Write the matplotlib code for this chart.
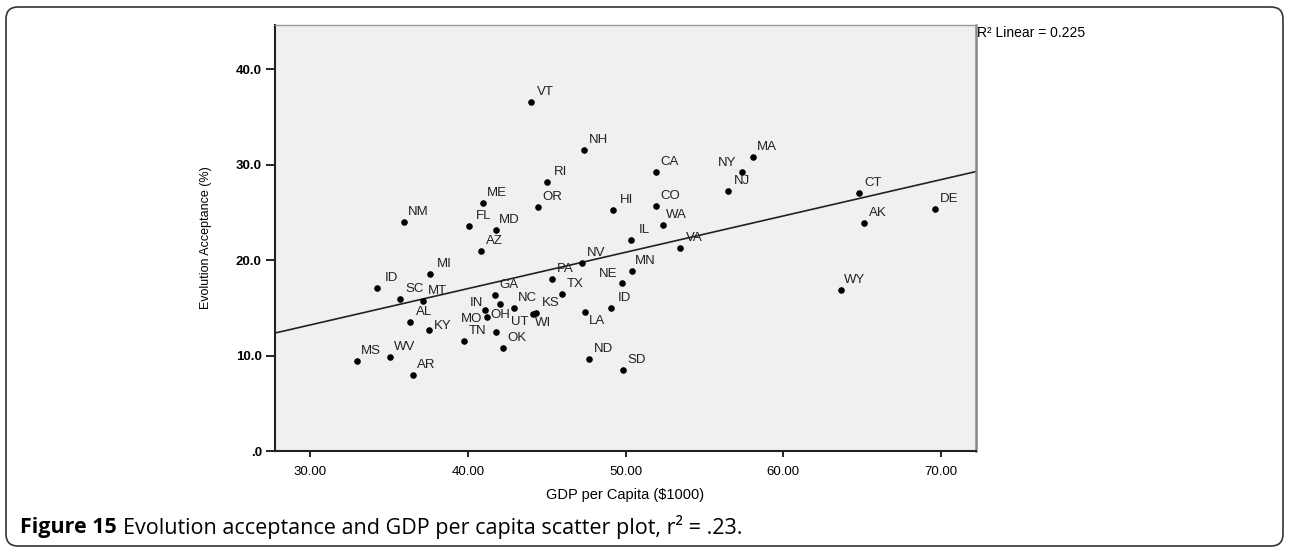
import numpy as np
import matplotlib
matplotlib.use("Agg")
from matplotlib import pyplot as plt
from matplotlib.patches import FancyBboxPatch

# Data
states = ['NM', 'ME', 'FL', 'MD', 'AZ', 'VT', 'NH', 'RI', 'OR', 'HI',
          'CA', 'CO', 'WA', 'IL', 'VA', 'MA', 'NY', 'NJ', 'CT', 'AK',
          'DE', 'ID', 'MI', 'SC', 'MT', 'AL', 'KY', 'MS', 'WV', 'AR',
          'TN', 'MO', 'GA', 'IN', 'OH', 'NC', 'UT', 'WI', 'KS', 'OK',
          'NV', 'PA', 'TX', 'NE', 'MN', 'ID', 'LA', 'ND', 'SD', 'WY']
gdp = [35.93, 40.93, 40.08, 41.75, 40.80, 44.00, 47.38, 44.99, 44.44, 49.20,
       51.91, 51.95, 52.37, 50.32, 53.45, 58.11, 57.41, 56.48, 64.84, 65.14,
       69.66, 34.24, 37.60, 35.70, 37.16, 36.33, 37.54, 32.94, 35.06, 36.48,
       39.72, 41.18, 41.72, 42.05, 41.09, 42.90, 41.77, 44.14, 44.35, 42.24,
       47.23, 45.31, 45.94, 49.77, 50.39, 49.07, 47.46, 47.69, 49.85, 63.67]
accept = [24.0, 26.0, 23.6, 23.2, 21.0, 36.6, 31.6, 28.2, 25.6, 25.3,
          29.2, 25.7, 23.7, 22.1, 21.3, 30.8, 29.2, 27.3, 27.0, 23.9,
          25.4, 17.1, 18.5, 15.9, 15.7, 13.5, 12.7, 9.4, 9.9, 8.0,
          11.5, 14.0, 16.3, 15.4, 14.8, 15.0, 12.5, 14.4, 14.5, 10.8,
          19.7, 18.0, 16.5, 17.6, 18.9, 15.0, 14.6, 9.6, 8.5, 16.9]

x_ticks = [30, 40, 50, 60, 70]
y_ticks = [0, 10, 20, 30, 40]
y_tick_labels = ['.0', '10.0', '20.0', '30.0', '40.0']

# label placement (pixels from the point), default up-right
default_offset = (14, 10)
label_offsets = {31: (-15, -2), 33: (-24, 1), 34: (15, -5), 16: (-15, 9),
                 26: (13, 4), 36: (24, 10), 37: (10, -9), 43: (-14, 9),
                 46: (12, -9)}

W, H = 1289, 549
fig = plt.figure(figsize=(W / 100, H / 100), dpi=100)

# outer rounded frame
frame = FancyBboxPatch((6, 3), 1277, 539, boxstyle="round,pad=0,rounding_size=12",
                       transform=None, facecolor='none', edgecolor='#333333',
                       linewidth=1.2)
fig.patches.append(frame)

ax = fig.add_axes([275 / W, (H - 451) / H, 701 / W, 426 / H])
ax.set_facecolor('#f0f0f0')

ax.scatter(gdp, accept, s=14, color='black', zorder=3)

for i, name in enumerate(states):
    dx, dy = label_offsets.get(i, default_offset)
    ax.annotate(name, (gdp[i], accept[i]), xytext=(dx, dy),
                textcoords='offset pixels', ha='center', va='center',
                fontsize=9.5, color='#222222', family='Liberation Sans')

# fit line
slope, intercept = np.polyfit(gdp, accept, 1)
xlim = (27.75, 72.25)
xs = np.array(xlim)
ax.plot(xs, slope * xs + intercept, color='#222222', linewidth=1.2, zorder=2)

ax.set_xlim(xlim)
ax.set_ylim(0, 44.65)
ax.set_xticks(x_ticks)
ax.set_xticklabels(['%.2f' % v for v in x_ticks], fontsize=9.5,
                   family='Liberation Sans')
ax.set_yticks(y_ticks)
ax.set_yticklabels(y_tick_labels, fontsize=9.5, fontweight='bold',
                   family='Liberation Sans')
ax.tick_params(axis='y', length=6.5, width=1.2, pad=3)
ax.tick_params(axis='x', length=4.5, width=1.2, pad=6)

for side in ['left', 'bottom']:
    ax.spines[side].set_color('#222222')
    ax.spines[side].set_linewidth(1.5)
ax.spines['top'].set_color('#999999')
ax.spines['top'].set_linewidth(1.0)
ax.spines['right'].set_color('#888888')
ax.spines['right'].set_linewidth(1.8)

ax.set_xlabel('GDP per Capita ($1000)', fontsize=10.5, family='Liberation Sans')
ax.set_ylabel('Evolution Acceptance (%)', fontsize=9, family='Liberation Sans')
ax.xaxis.set_label_coords(0.5, -0.088)
ax.yaxis.set_label_coords(-0.09, 0.5)

fig.text(977 / W, (H - 33) / H, 'R² Linear = 0.225', fontsize=10,
         family=['Liberation Sans Narrow', 'Liberation Sans'], va='center')

# caption: bold lead then regular text
cap_y = (H - 527) / H
t1 = fig.text(20 / W, cap_y, 'Figure 15', fontsize=15.5, fontweight='bold',
              family='Open Sans', va='center')
renderer = fig.canvas.get_renderer()
bb = t1.get_window_extent(renderer=renderer)
fig.text((bb.x1 + 6) / W, cap_y,
         'Evolution acceptance and GDP per capita scatter plot, r² = .23.',
         fontsize=15.5, family='Open Sans', va='center')

fig.savefig('out.png', dpi=100)
